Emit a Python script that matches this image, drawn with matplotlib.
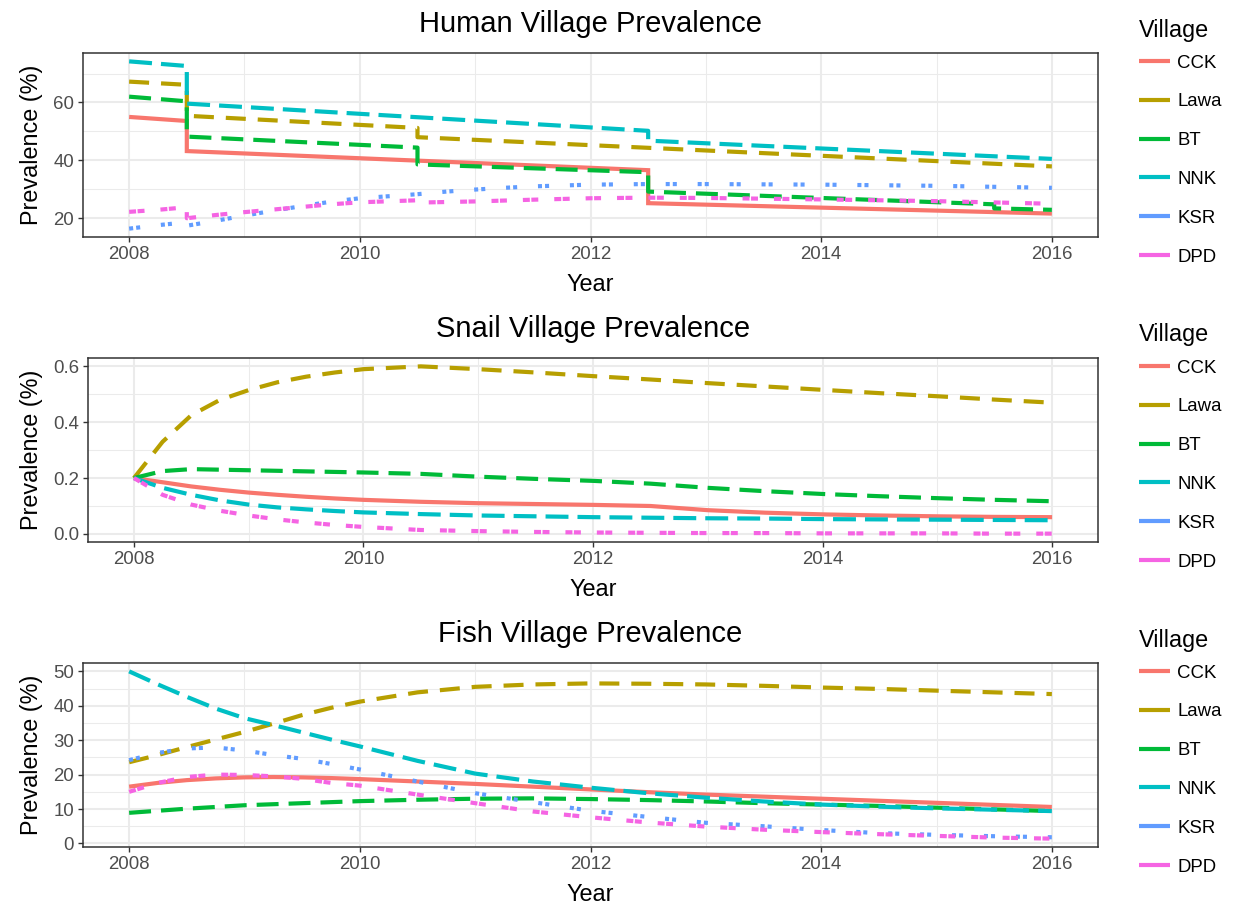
import matplotlib.pyplot as plt
from matplotlib.lines import Line2D
from matplotlib.ticker import MultipleLocator

plt.rcParams['font.family'] = ['Liberation Sans', 'DejaVu Sans']
plt.rcParams['lines.scale_dashes'] = False

villages = ['CCK', 'Lawa', 'BT', 'NNK', 'KSR', 'DPD']

# ---- human prevalence (%), stepwise after treatment rounds ----
human_cck_year = [2008, 2008.5, 2008.5, 2012.5, 2012.5, 2016]
human_cck = [55.0, 53.6, 43.2, 36.6, 25.2, 21.6]
human_lawa_year = [2008, 2008.5, 2008.5, 2010.5, 2010.5, 2016]
human_lawa = [67.2, 66.1, 55.4, 51.2, 48.0, 37.9]
human_bt_year = [2008, 2008.5, 2008.5, 2010.5, 2010.5, 2012.5, 2012.5, 2015.5, 2015.5, 2016]
human_bt = [62.0, 60.4, 48.2, 44.4, 38.6, 35.9, 29.2, 24.8, 23.4, 22.9]
human_nnk_year = [2008, 2008.5, 2008.5, 2012.5, 2012.5, 2016]
human_nnk = [74.2, 72.6, 59.6, 50.2, 46.8, 40.5]
human_ksr_year = [2008, 2008.25, 2008.5, 2008.5, 2008.75, 2009, 2009.25, 2009.5, 2009.75,
                  2010, 2010.25, 2010.5, 2010.75, 2011, 2011.25, 2011.5, 2011.75, 2012,
                  2012.5, 2013, 2014, 2015, 2016]
human_ksr = [16.4, 17.6, 18.6, 17.4, 19.1, 20.9, 22.6, 24.2, 25.7,
             26.9, 27.6, 28.3, 29.2, 29.9, 30.5, 31.0, 31.3, 31.6,
             31.8, 31.8, 31.6, 31.2, 30.5]
human_dpd_year = [2008, 2008.25, 2008.5, 2008.5, 2008.75, 2009, 2009.25, 2009.5, 2009.75,
                  2010, 2010.5, 2010.5, 2011, 2011.5, 2012, 2012.5, 2013, 2014, 2015, 2016]
human_dpd = [22.2, 22.9, 23.8, 20.0, 21.1, 22.1, 23.0, 23.9, 24.8,
             25.5, 26.2, 25.4, 25.8, 26.4, 26.9, 27.1, 27.0, 26.5, 25.9, 25.0]

# ---- snail and fish prevalence share one time grid ----
years = [2008, 2008.25, 2008.5, 2008.75, 2009, 2009.25, 2009.5, 2009.75, 2010, 2010.5,
         2011, 2011.5, 2012, 2012.5, 2013, 2013.5, 2014, 2014.5, 2015, 2015.5, 2016]

snail_cck = [0.2, 0.185, 0.17, 0.158, 0.148, 0.14, 0.133, 0.127, 0.122, 0.115,
             0.11, 0.107, 0.104, 0.1, 0.085, 0.076, 0.07, 0.066, 0.063, 0.061, 0.06]
snail_lawa = [0.2, 0.33, 0.425, 0.48, 0.515, 0.543, 0.563, 0.578, 0.59, 0.6,
              0.59, 0.578, 0.565, 0.553, 0.54, 0.528, 0.516, 0.504, 0.493, 0.481, 0.47]
snail_bt = [0.2, 0.225, 0.232, 0.23, 0.228, 0.226, 0.224, 0.222, 0.22, 0.215,
            0.205, 0.197, 0.19, 0.18, 0.165, 0.153, 0.143, 0.135, 0.128, 0.122, 0.117]
snail_nnk = [0.2, 0.165, 0.14, 0.12, 0.105, 0.095, 0.088, 0.082, 0.077, 0.071,
             0.066, 0.063, 0.06, 0.058, 0.056, 0.055, 0.053, 0.052, 0.051, 0.05, 0.049]
snail_ksr = None  # no snail survey for KSR
snail_dpd = [0.2, 0.14, 0.105, 0.083, 0.066, 0.052, 0.041, 0.032, 0.025, 0.014,
             0.01, 0.007, 0.005, 0.004, 0.003, 0.003, 0.002, 0.002, 0.002, 0.001, 0.001]

fish_cck = [16.5, 17.6, 18.4, 18.9, 19.2, 19.3, 19.2, 19.0, 18.7, 18.0,
            17.3, 16.5, 15.7, 14.9, 14.2, 13.6, 13.0, 12.4, 11.8, 11.2, 10.6]
fish_lawa = [23.6, 25.7, 28.0, 30.2, 32.4, 34.8, 37.3, 39.4, 41.2, 43.9,
             45.5, 46.2, 46.5, 46.4, 46.2, 45.8, 45.3, 44.9, 44.4, 43.9, 43.4]
fish_bt = [8.9, 9.5, 10.1, 10.6, 11.1, 11.4, 11.7, 12.0, 12.3, 12.7,
           13.0, 13.1, 12.9, 12.6, 12.2, 11.7, 11.3, 10.9, 10.4, 9.9, 9.4]
fish_nnk = [50.0, 46.2, 42.6, 39.2, 36.4, 34.4, 32.3, 30.2, 28.2, 24.0,
            20.3, 18.0, 16.2, 14.6, 13.3, 12.2, 11.3, 10.7, 10.2, 9.8, 9.4]
fish_ksr = [24.2, 26.3, 27.6, 27.9, 27.0, 25.7, 24.6, 23.1, 21.5, 18.0,
            14.6, 12.0, 9.5, 7.7, 6.0, 5.0, 3.9, 3.0, 2.5, 2.1, 1.8]
fish_dpd = [15.0, 17.6, 19.3, 20.0, 19.9, 19.5, 18.8, 17.6, 16.8, 14.2,
            11.7, 9.3, 7.6, 6.1, 4.9, 4.0, 3.3, 2.7, 2.2, 1.7, 1.4]

human = [(human_cck_year, human_cck), (human_lawa_year, human_lawa), (human_bt_year, human_bt),
         (human_nnk_year, human_nnk), (human_ksr_year, human_ksr), (human_dpd_year, human_dpd)]
snail = [(years, s) if s is not None else None
         for s in [snail_cck, snail_lawa, snail_bt, snail_nnk, snail_ksr, snail_dpd]]
fish = [(years, f) for f in [fish_cck, fish_lawa, fish_bt, fish_nnk, fish_ksr, fish_dpd]]

# ggplot hue palette and default linetypes
colors = ['#F8766D', '#B79F00', '#00BA38', '#00BFC4', '#619CFF', '#F564E3']
dash_seq = [None, (14.4, 8.6), (15.8, 7.2), (16.5, 6.5), (2.9, 2.2, 2.9, 15.0), (5.0, 1.1, 5.0, 11.5)]
lw = 3.0

fig = plt.figure(figsize=(12.39, 9.09), dpi=100)
W, H = 1239, 909

panels = [
    ('Human Village Prevalence', human, 83, 53, 20, 10),
    ('Snail Village Prevalence', snail, 88, 358, 0.2, 0.1),
    ('Fish Village Prevalence', fish, 83, 663, 10, 5),
]

for title, series, left_px, top_px, ymaj, ymin in panels:
    ax = fig.add_axes([left_px / W, 1 - (top_px + 184) / H, (1098 - left_px) / W, 184 / H])
    for data, c, d in zip(series, colors, dash_seq):
        if data is None:
            continue
        ln, = ax.plot(data[0], data[1], color=c, lw=lw, solid_capstyle='butt',
                      dash_capstyle='butt', solid_joinstyle='miter')
        if d is not None:
            ln.set_dashes(d)
    ax.set_xlim(2007.6, 2016.4)
    ax.xaxis.set_major_locator(MultipleLocator(2))
    ax.xaxis.set_minor_locator(MultipleLocator(1))
    ax.yaxis.set_major_locator(MultipleLocator(ymaj))
    ax.yaxis.set_minor_locator(MultipleLocator(ymin))
    if ymaj < 1:
        ax.yaxis.set_major_formatter(lambda v, p: f'{v:.1f}')
    ax.grid(which='major', color='#EBEBEB', lw=1.5)
    ax.grid(which='minor', color='#EBEBEB', lw=0.75)
    ax.set_axisbelow(True)
    for sp in ax.spines.values():
        sp.set_color('#333333')
        sp.set_linewidth(1.1)
    ax.tick_params(which='major', length=3.5, width=1.0, color='#333333',
                   labelsize=13.4, labelcolor='#4D4D4D', pad=3)
    ax.tick_params(which='minor', length=0)
    ax.set_title(title, fontsize=21, pad=15)
    ax.set_xlabel('Year', fontsize=16.8, labelpad=7)
    ax.set_ylabel('Prevalence (%)', fontsize=16.8)
    # same x for the y titles of all three panels
    ax.yaxis.set_label_coords(43 / W, 1 - (top_px + 92) / H, transform=fig.transFigure)

    handles = [Line2D([], [], color=c, lw=lw, solid_capstyle='butt') for c in colors]
    ax.legend(handles, villages, loc='upper left',
              bbox_to_anchor=(1139 / W, 1 - (top_px + 1.5) / H),
              bbox_transform=fig.transFigure, frameon=False, fontsize=13.4,
              borderpad=0, borderaxespad=0,
              handlelength=1.65, handletextpad=0.4, labelspacing=1.17)
    fig.text(1139 / W, 1 - (top_px - 23) / H, 'Village', fontsize=16.8,
             ha='left', va='center')

fig.savefig('out.png', dpi=100)
